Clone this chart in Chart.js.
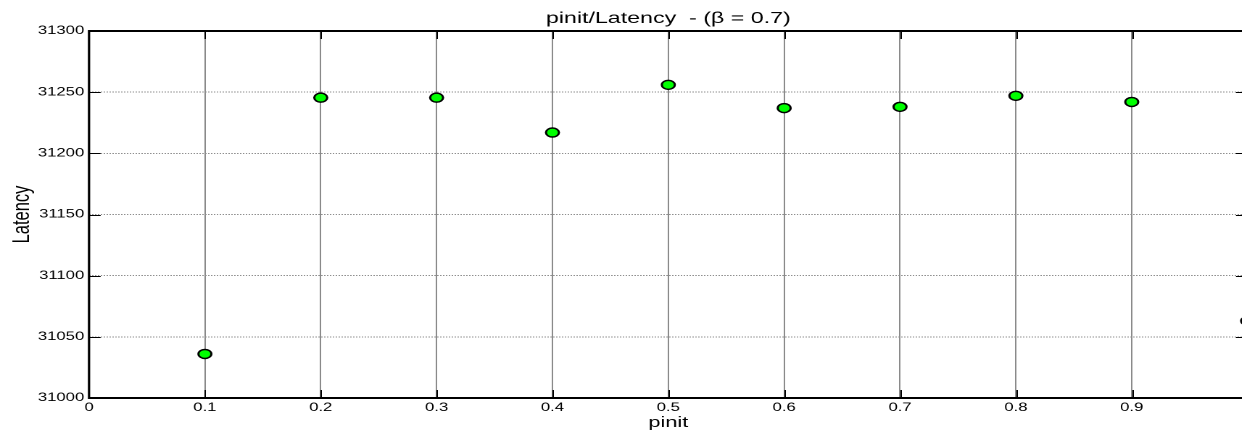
<!DOCTYPE html>
<html>
<head>
<meta charset="utf-8">
<script src="https://cdn.jsdelivr.net/npm/chart.js@4/dist/chart.umd.min.js"></script>
<style>
  html, body { margin: 0; padding: 0; background: #fff; width: 1242px; height: 432px; overflow: hidden; }
  /* the figure is laid out narrow and widened horizontally */
  #wrap { width: 900px; height: 432px; transform: scaleX(1.45); transform-origin: 0 0; }
  canvas { display: block; }
</style>
</head>
<body>
<div id="wrap"><canvas id="c" width="900" height="432" style="width:900px;height:432px"></canvas></div>
<script>
// pinit values and measured latency
const pinit = [0.1, 0.2, 0.3, 0.4, 0.5, 0.6, 0.7, 0.8, 0.9, 1.0];
const latency = [31036, 31245.5, 31245.5, 31217, 31256, 31237, 31238, 31247, 31242, 31063];

// axis tick labels
const xTickLabels = ['0', '0.1', '0.2', '0.3', '0.4', '0.5', '0.6', '0.7', '0.8', '0.9', ''];
const yTickLabels = ['31000', '31050', '31100', '31150', '31200', '31250', '31300'];

const FONT = "'Liberation Sans', Arial, Helvetica, sans-serif";
const TICK_LEN = 8;

// inward tick marks and the axes box, MATLAB style
const boxPlugin = {
  id: 'boxTicks',
  beforeDatasetsDraw(chart) {
    const { ctx, chartArea: a, scales: { x, y } } = chart;
    ctx.save();
    ctx.strokeStyle = '#000';
    ctx.lineWidth = 1;
    ctx.beginPath();
    x.ticks.forEach(t => {
      const px = Math.round(x.getPixelForValue(t.value)) + 0.5;
      if (px <= a.left + 1 || px >= a.right - 1) return;
      ctx.moveTo(px, a.bottom); ctx.lineTo(px, a.bottom - TICK_LEN);
      ctx.moveTo(px, a.top); ctx.lineTo(px, a.top + TICK_LEN);
    });
    y.ticks.forEach(t => {
      const py = Math.round(y.getPixelForValue(t.value)) + 0.5;
      ctx.moveTo(a.left, py); ctx.lineTo(a.left + TICK_LEN, py);
      ctx.moveTo(a.right, py); ctx.lineTo(a.right - TICK_LEN, py);
    });
    ctx.stroke();

    ctx.lineWidth = 2;
    ctx.beginPath();
    ctx.moveTo(a.left, a.top); ctx.lineTo(a.right, a.top);
    ctx.moveTo(a.left, a.bottom); ctx.lineTo(a.right, a.bottom);
    ctx.stroke();
    ctx.lineWidth = 1.6;
    ctx.beginPath();
    ctx.moveTo(a.left, a.top - 1); ctx.lineTo(a.left, a.bottom + 1);
    ctx.moveTo(a.right, a.top - 1); ctx.lineTo(a.right, a.bottom + 1);
    ctx.stroke();
    ctx.restore();
  }
};

new Chart(document.getElementById('c'), {
  type: 'scatter',
  data: {
    datasets: [{
      label: 'Latency',
      data: pinit.map((p, i) => ({ x: p, y: latency[i] })),
      pointRadius: 4.5,
      pointHoverRadius: 4.5,
      pointBackgroundColor: '#00ff00',
      pointBorderColor: '#000',
      pointBorderWidth: 1.5,
      clip: false
    }]
  },
  plugins: [boxPlugin],
  options: {
    responsive: false,
    devicePixelRatio: 2,
    animation: false,
    events: [],
    layout: { padding: { left: 0, right: 39.6, top: 0, bottom: 0 } },
    plugins: {
      legend: { display: false },
      tooltip: { enabled: false },
      title: {
        display: true,
        fullSize: false,
        text: 'pinit/Latency  - (β = 0.7)',
        color: '#000',
        font: { family: FONT, size: 16, weight: 'normal', lineHeight: 1.2 },
        padding: { top: 9, bottom: 2.8 }
      }
    },
    scales: {
      x: {
        type: 'linear',
        min: 0,
        max: 1,
        afterFit(scale) { scale.height = 34; },
        border: { display: false },
        grid: {
          drawTicks: false,
          lineWidth: 1,
          color: ctx => (ctx.index === 0 || ctx.index === 10) ? 'rgba(0,0,0,0)' : '#8a8a8a'
        },
        ticks: {
          stepSize: 0.1,
          autoSkip: false,
          maxRotation: 0,
          padding: 3,
          color: '#000',
          font: { family: FONT, size: 11.5 },
          callback: (v, i) => xTickLabels[i] ?? ''
        },
        title: {
          display: true,
          text: 'pinit',
          color: '#000',
          font: { family: FONT, size: 15, lineHeight: 1.2 },
          padding: { top: 0, bottom: 0 }
        }
      },
      y: {
        type: 'linear',
        min: 31000,
        max: 31300,
        afterFit(scale) { scale.width = 61.4; },
        border: { display: false, dash: [1, 1] },
        grid: {
          drawTicks: false,
          lineWidth: 1,
          color: '#8f8f8f'
        },
        ticks: {
          stepSize: 50,
          autoSkip: false,
          padding: 3.3,
          color: '#000',
          font: { family: FONT, size: 11.5 },
          callback: (v, i) => yTickLabels[i] ?? ''
        },
        title: {
          display: true,
          text: 'Latency',
          color: '#000',
          font: { family: FONT, size: 16.5, lineHeight: 1.2 },
          padding: { top: 5.5, bottom: 0 }
        }
      }
    }
  }
});
</script>
</body>
</html>
